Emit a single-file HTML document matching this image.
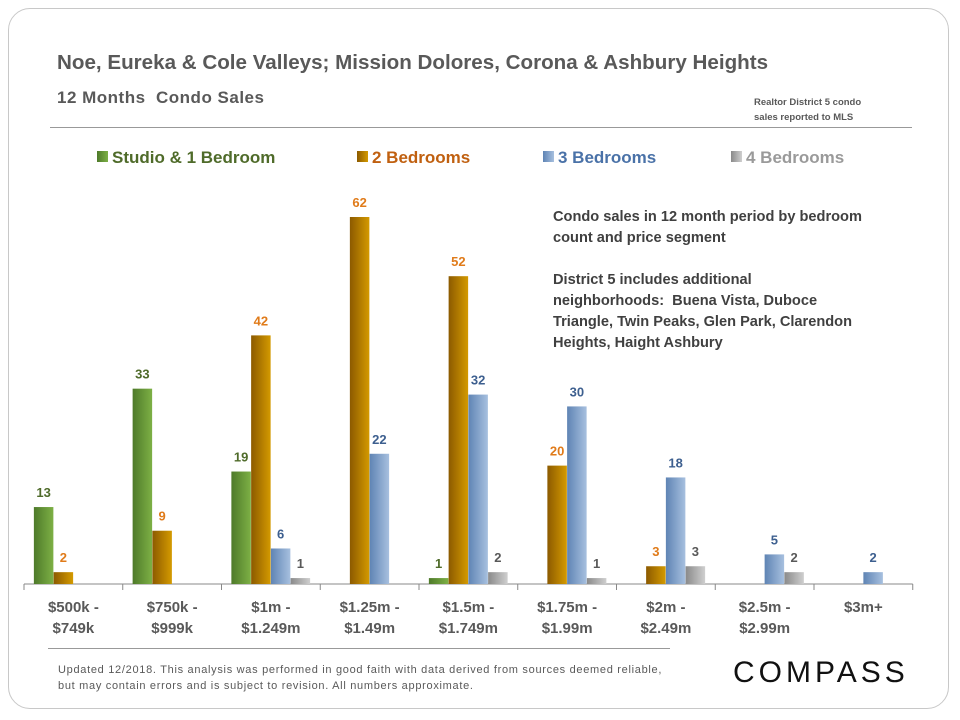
<!DOCTYPE html>
<html><head><meta charset="utf-8"><style>
body{margin:0;width:960px;height:720px;background:#fff;font-family:"Liberation Sans","DejaVu Sans",sans-serif;overflow:hidden}
.card{position:absolute;left:8px;top:8px;width:941px;height:701px;border:1px solid #c8c8c8;border-radius:22px;box-sizing:border-box}
.t{position:absolute;color:#595959;font-weight:bold;white-space:nowrap}
</style></head><body>
<div class="card"></div>
<div class="t" style="left:57px;top:51px;font-size:20.6px">Noe, Eureka &amp; Cole Valleys; Mission Dolores, Corona &amp; Ashbury Heights</div>
<div class="t" style="left:57px;top:88px;font-size:17px;letter-spacing:0.5px">12 Months&nbsp; Condo Sales</div>
<div class="t" style="left:754px;top:95px;font-size:9.5px;line-height:15px">Realtor District 5 condo<br>sales reported to MLS</div>
<div style="position:absolute;left:50px;top:127px;width:862px;height:1px;background:#999"></div>
<div class="t" style="left:553px;top:207px;font-size:14.6px;line-height:21px;color:#404040">Condo sales in 12 month period by bedroom<br>count and price segment<br><br>District 5 includes additional<br>neighborhoods:&nbsp; Buena Vista, Duboce<br>Triangle, Twin Peaks, Glen Park, Clarendon<br>Heights, Haight Ashbury</div>
<div style="position:absolute;left:48px;top:648px;width:622px;height:1px;background:#999"></div>
<div style="position:absolute;left:58px;top:662px;font-size:11px;letter-spacing:0.7px;line-height:16px;color:#595959">Updated 12/2018. This analysis was performed in good faith with data derived from sources deemed reliable,<br>but may contain errors and is subject to revision. All numbers approximate.</div>
<div style="position:absolute;left:733px;top:656px;font-size:30px;letter-spacing:4px;color:#111">COMPASS</div>
<svg id="chart" width="960" height="720" style="position:absolute;left:0;top:0">
<defs>
<linearGradient id="g0" x1="0" x2="1"><stop offset="0" stop-color="#4e7a2a"/><stop offset="1" stop-color="#7db045"/></linearGradient>
<linearGradient id="g1" x1="0" x2="1"><stop offset="0" stop-color="#8c5a00"/><stop offset="1" stop-color="#d49a00"/></linearGradient>
<linearGradient id="g2" x1="0" x2="1"><stop offset="0" stop-color="#5f84b4"/><stop offset="1" stop-color="#a7c0df"/></linearGradient>
<linearGradient id="g3" x1="0" x2="1"><stop offset="0" stop-color="#8a8a8a"/><stop offset="1" stop-color="#cfcfcf"/></linearGradient>
</defs>
</svg>
<script>
const categories=[["$500k -","$749k"],["$750k -","$999k"],["$1m -","$1.249m"],["$1.25m -","$1.49m"],["$1.5m -","$1.749m"],["$1.75m -","$1.99m"],["$2m -","$2.49m"],["$2.5m -","$2.99m"],["$3m+",""]];
const seriesNames=["Studio & 1 Bedroom","2 Bedrooms","3 Bedrooms","4 Bedrooms"];
const studio=[13,33,19,0,1,0,0,0,0];
const bed2=[2,9,42,62,52,20,3,0,0];
const bed3=[0,0,6,22,32,30,18,5,2];
const bed4=[0,0,1,0,2,1,3,2,0];
const series=[studio,bed2,bed3,bed4];
const labelColors=["#4f6b2a","#e07b1a","#3d5f8f","#595959"];
const legendColors=["#4f6b2a","#c06010","#4a72a8","#9a9a9a"];
const svg=document.getElementById('chart');
const NS="http://www.w3.org/2000/svg";
const x0=24,step=98.75,base=584,scale=367/62;
const xc=i=>x0+step*(i+0.5);
const y=v=>base-v*scale;
function mk(t,a){const e=document.createElementNS(NS,t);for(const k in a)e.setAttribute(k,a[k]);svg.appendChild(e);return e;}
let ax=mk('line',{x1:x0,x2:x0+step*categories.length,y1:base,y2:base,stroke:'#888'});


for(let i=0;i<=categories.length;i++){
 const tk=mk('line',{x1:x0+step*i,x2:x0+step*i,y1:base,y2:base+6,stroke:'#888'});
 
 
}
categories.forEach((c,i)=>{
 c.forEach((s,j)=>{if(!s)return;
  const t=mk('text',{x:xc(i),y:base+28+j*21,'text-anchor':'middle','font-size':15,'font-weight':'bold',fill:'#595959'});
  t.textContent=s;
  
  
 });
});
series.forEach((arr,s)=>{
 arr.forEach((v,i)=>{
  if(!v)return;
  const bx=xc(i)-39.5+s*19.75;
  const r=mk('rect',{x:bx,y:y(v),width:19.5,height:v*scale,fill:'url(#g'+s+')'});
  
  
  const t=mk('text',{x:bx+9.75,y:y(v)-10,'text-anchor':'middle','font-size':13,'font-weight':'bold',fill:labelColors[s]});
  t.textContent=v;
  
  
 });
});
const lx=[97,357,543,731];
seriesNames.forEach((n,s)=>{
 const r=mk('rect',{x:lx[s],y:151,width:11,height:11,fill:'url(#g'+s+')'});
 
 
 const t=mk('text',{x:lx[s]+15,y:163,'font-size':17,'font-weight':'bold',fill:legendColors[s]});
 t.textContent=n;
 
 
});
</script>
</body></html>
